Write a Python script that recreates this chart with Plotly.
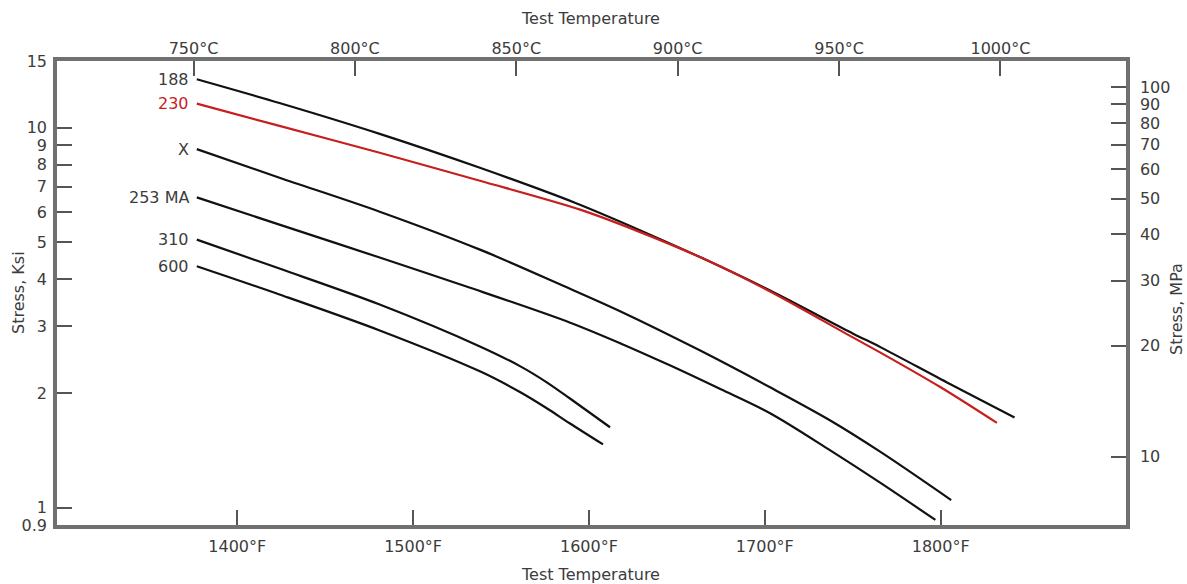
import math
import plotly.graph_objects as go

# ---- data ----
temp_188_F = [1377, 1424, 1481, 1538, 1592, 1627, 1665, 1703, 1750, 1766, 1805, 1842]
stress_188_ksi = [13.43, 11.63, 9.645, 7.851, 6.353, 5.428, 4.527, 3.730, 2.876, 2.642, 2.119, 1.727]

temp_230_F = [1377, 1424, 1481, 1538, 1595, 1627, 1665, 1703, 1750, 1766, 1800, 1832]
stress_230_ksi = [11.585, 10.12, 8.597, 7.257, 6.090, 5.363, 4.527, 3.708, 2.807, 2.556, 2.074, 1.671]

temp_X_F = [1377, 1424, 1481, 1538, 1585, 1618, 1663, 1703, 1737, 1766, 1806]
stress_X_ksi = [8.792, 7.390, 6.016, 4.780, 3.845, 3.285, 2.595, 2.074, 1.699, 1.400, 1.047]

temp_253MA_F = [1377, 1424, 1481, 1532, 1589, 1618, 1646, 1675, 1703, 1737, 1766, 1797]
stress_253MA_ksi = [6.560, 5.561, 4.555, 3.799, 3.074, 2.707, 2.370, 2.049, 1.772, 1.417, 1.160, 0.928]

temp_310_F = [1377, 1424, 1481, 1538, 1561, 1576, 1589, 1612]
stress_310_ksi = [5.079, 4.261, 3.427, 2.658, 2.355, 2.138, 1.941, 1.628]

temp_600_F = [1377, 1424, 1481, 1538, 1561, 1576, 1589, 1608]
stress_600_ksi = [4.321, 3.641, 2.928, 2.285, 2.013, 1.827, 1.668, 1.467]

series = [
    ("188", temp_188_F, stress_188_ksi, "#111111"),
    ("230", temp_230_F, stress_230_ksi, "#c81e1e"),
    ("X", temp_X_F, stress_X_ksi, "#111111"),
    ("253 MA", temp_253MA_F, stress_253MA_ksi, "#111111"),
    ("310", temp_310_F, stress_310_ksi, "#111111"),
    ("600", temp_600_F, stress_600_ksi, "#111111"),
]

f_ticks = [1400, 1500, 1600, 1700, 1800]
f_ticklabels = ["1400°F", "1500°F", "1600°F", "1700°F", "1800°F"]
c_ticks = [750, 800, 850, 900, 950, 1000]
c_ticklabels = ["750°C", "800°C", "850°C", "900°C", "950°C", "1000°C"]
ksi_ticks = [0.9, 1, 2, 3, 4, 5, 6, 7, 8, 9, 10, 15]
ksi_ticklabels = ["0.9", "1", "2", "3", "4", "5", "6", "7", "8", "9", "10", "15"]
mpa_ticks = [10, 20, 30, 40, 50, 60, 70, 80, 90, 100]
mpa_ticklabels = [str(v) for v in mpa_ticks]

# ---- figure ----
FAMILY = "DejaVu Sans, Liberation Sans, Arial, sans-serif"
TXT = "#3c3c3c"
FONT = dict(family=FAMILY, size=16, color=TXT)
AXLINE = "#707070"
TICKC = "#555555"

fig = go.Figure()
for name, xs, ys, col in series:
    fig.add_trace(go.Scatter(
        x=xs, y=ys, mode="lines", name=name,
        line=dict(color=col, width=2.2, shape="spline", smoothing=0.9),
        xaxis="x", yaxis="y", showlegend=False, hoverinfo="skip"))

# empty trace so the secondary (°C / MPa) axes are drawn
fig.add_trace(go.Scatter(x=[], y=[], xaxis="x2", yaxis="y2", showlegend=False))

annotations = []
for name, xs, ys, col in series:
    annotations.append(dict(
        x=xs[0], y=math.log10(ys[0]), xref="x", yref="y", text=name,
        showarrow=False, xanchor="right", yanchor="middle", xshift=-6,
        font=dict(family=FAMILY, size=16, color=("#c81e1e" if name == "230" else TXT))))

# axis titles
annotations += [
    dict(text="Test Temperature", xref="paper", yref="paper", x=0.4995, y=1.0,
         yshift=43, showarrow=False, xanchor="center", yanchor="middle", font=FONT),
    dict(text="Test Temperature", xref="paper", yref="paper", x=0.4995, y=0.0,
         yshift=-49, showarrow=False, xanchor="center", yanchor="middle", font=FONT),
    dict(text="Stress, Ksi", xref="paper", yref="paper", x=0.0, y=0.5,
         xshift=-39, yshift=0, showarrow=False, textangle=-90,
         xanchor="center", yanchor="middle", font=FONT),
    dict(text="Stress, MPa", xref="paper", yref="paper", x=1.0, y=0.5,
         xshift=50, yshift=-16, showarrow=False, textangle=-90,
         xanchor="center", yanchor="middle", font=FONT),
]

common = dict(ticks="inside", ticklen=15, tickwidth=1.5, tickcolor=TICKC,
              showline=True, linewidth=3.5, linecolor=AXLINE, automargin=False,
              showgrid=False, zeroline=False, tickfont=FONT)

fig.update_layout(
    width=1187, height=584,
    margin=dict(l=57, r=61, t=61, b=59, autoexpand=False),
    paper_bgcolor="white", plot_bgcolor="white",
    font=FONT,
    xaxis=dict(range=[1297.5, 1905.4], tickmode="array", tickvals=f_ticks, ticktext=f_ticklabels,
               ticklabelstandoff=4, **common),
    xaxis2=dict(range=[707.7, 1038.9], tickmode="array", tickvals=c_ticks, ticktext=c_ticklabels,
                overlaying="x", side="top", anchor="y", ticklabelstandoff=-3, **common),
    yaxis=dict(type="log", range=[math.log10(0.9), math.log10(15)], tickmode="array",
               tickvals=ksi_ticks, ticktext=ksi_ticklabels, ticklabelstandoff=3, **common),
    yaxis2=dict(type="log", range=[0.8153, 2.0717], tickmode="array",
                tickvals=mpa_ticks, ticktext=mpa_ticklabels,
                overlaying="y", side="right", anchor="x", ticklabelstandoff=7, **common),
    annotations=annotations,
)

# remove the browser's default 8 px body margin so the 1187x584 figure fills the window exactly
fig.write_html("out.html", config={"displayModeBar": False},
               post_script="document.body.style.margin='0';document.body.style.overflow='hidden';")
